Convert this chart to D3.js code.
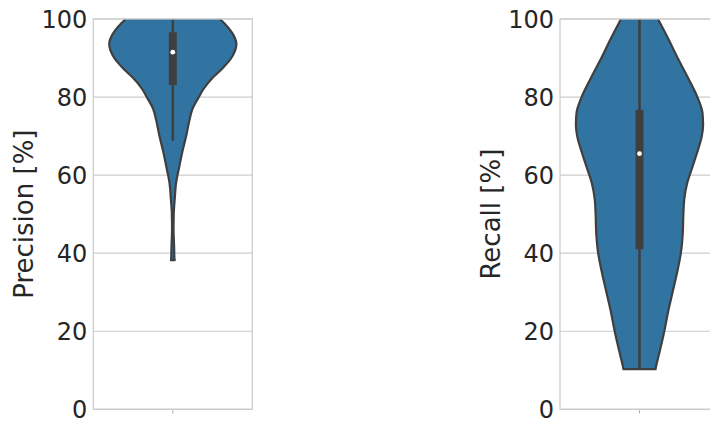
<!DOCTYPE html>
<html>
<head>
<meta charset="utf-8">
<script src="https://cdn.jsdelivr.net/npm/d3@7"></script>
<style>
  html, body { margin: 0; padding: 0; background: #ffffff; }
  svg { display: block; font-family: "DejaVu Sans", sans-serif; }
</style>
</head>
<body>
<svg id="chart" width="710" height="421"></svg>
<script>
// Violin profiles: value levels (%) and relative density (max = 1)
const precisionLevels = [38.2, 42, 46, 50, 54, 58, 62, 66, 70, 74, 77, 80, 82, 85, 87, 90, 93.5, 96, 98, 100];
const precisionDensity = [0.026, 0.02, 0.012, 0.015, 0.031, 0.052, 0.10, 0.15, 0.21, 0.26, 0.31, 0.41, 0.48, 0.63, 0.76, 0.92, 1.0, 0.95, 0.86, 0.74];
// Box summary: [lower whisker, Q1, median, Q3, upper whisker]
const precisionStats = [68.8, 83.1, 91.5, 96.6, 100];

const recallLevels = [10.3, 15, 20, 25, 30, 35, 40, 45, 50, 54, 58, 62, 66, 70, 73, 76, 80, 85, 90, 95, 100];
const recallDensity = [0.25, 0.32, 0.39, 0.45, 0.52, 0.59, 0.65, 0.68, 0.69, 0.705, 0.75, 0.83, 0.91, 0.98, 1.0, 0.99, 0.91, 0.76, 0.60, 0.45, 0.29];
const recallStats = [10.3, 41.0, 65.5, 76.7, 100];

const yTicks = [0, 20, 40, 60, 80, 100];

const panels = [
  { label: "Precision [%]", levels: precisionLevels, density: precisionDensity, stats: precisionStats, left: 93.3 },
  { label: "Recall [%]", levels: recallLevels, density: recallDensity, stats: recallStats, left: 560 }
];

const panelWidth = 159;
const plotTop = 19, plotBottom = 409.3;
const fillColor = "#3274a1";
const lineColor = "#3f3f3f";
const gridColor = "#cccccc";
const textColor = "#262626";

const svg = d3.select("#chart");

panels.forEach((p, i) => {
  const x = d3.scaleLinear().domain([-0.5, 0.5]).range([p.left, p.left + panelWidth]);
  const y = d3.scaleLinear().domain([0, 100]).range([plotBottom, plotTop]);
  const g = svg.append("g");

  const clipId = "clip" + i;
  svg.append("clipPath").attr("id", clipId)
    .append("rect").attr("x", p.left).attr("y", plotTop)
    .attr("width", panelWidth).attr("height", plotBottom - plotTop);

  // horizontal grid
  g.append("g").selectAll("line").data(yTicks).join("line")
    .attr("x1", p.left).attr("x2", p.left + panelWidth)
    .attr("y1", d => y(d)).attr("y2", d => y(d))
    .attr("stroke", gridColor).attr("stroke-width", 1.2);

  // violin body
  const pts = p.levels.map((v, k) => ({ v, w: p.density[k] * 0.4 }));
  const curve = d3.curveMonotoneY;
  const area = d3.area()
    .y(d => y(d.v))
    .x0(d => x(-d.w))
    .x1(d => x(d.w))
    .curve(curve);
  const vg = g.append("g").attr("clip-path", `url(#${clipId})`);
  vg.append("path").datum(pts).attr("d", area).attr("fill", fillColor);

  // outline: left side down, bottom edge, right side up
  const leftSide = pts.map(d => [x(-d.w), y(d.v)]);
  const rightSide = pts.map(d => [x(d.w), y(d.v)]);
  const side = d3.line().curve(curve);
  vg.append("path").attr("d", side(leftSide))
    .attr("fill", "none").attr("stroke", lineColor).attr("stroke-width", 2.2);
  vg.append("path").attr("d", side(rightSide))
    .attr("fill", "none").attr("stroke", lineColor).attr("stroke-width", 2.2);
  vg.append("line")
    .attr("x1", leftSide[0][0] - 1.1).attr("x2", rightSide[0][0] + 1.1)
    .attr("y1", leftSide[0][1]).attr("y2", rightSide[0][1])
    .attr("stroke", lineColor).attr("stroke-width", 2.2);

  // inner box
  const [wLo, q1, med, q3, wHi] = p.stats;
  vg.append("line").attr("x1", x(0)).attr("x2", x(0))
    .attr("y1", y(wLo)).attr("y2", y(wHi))
    .attr("stroke", lineColor).attr("stroke-width", 2.6);
  vg.append("line").attr("x1", x(0)).attr("x2", x(0))
    .attr("y1", y(q1)).attr("y2", y(q3))
    .attr("stroke", lineColor).attr("stroke-width", 8).attr("stroke-linecap", "butt");
  vg.append("circle").attr("cx", x(0)).attr("cy", y(med)).attr("r", 2.4).attr("fill", "#ffffff");

  // frame
  g.append("rect").attr("x", p.left).attr("y", plotTop)
    .attr("width", panelWidth).attr("height", plotBottom - plotTop)
    .attr("fill", "none").attr("stroke", gridColor).attr("stroke-width", 1.25);

  // y axis labels
  const yAxis = d3.axisLeft(y).tickValues(yTicks).tickSize(0).tickPadding(6).tickFormat(d3.format("d"));
  const ax = g.append("g").attr("transform", `translate(${p.left},0)`).call(yAxis);
  ax.select(".domain").remove();
  ax.selectAll("text").attr("font-size", 24).attr("fill", textColor)
    .attr("font-family", "DejaVu Sans, sans-serif").attr("dy", "0.35em");

  // x tick (single unnamed category)
  g.append("line").attr("x1", x(0)).attr("x2", x(0))
    .attr("y1", plotBottom + 1).attr("y2", plotBottom + 4)
    .attr("stroke", "#aaaaaa").attr("stroke-width", 1);

  // axis title
  g.append("text")
    .attr("transform", `translate(${p.left - 60},${(plotTop + plotBottom) / 2}) rotate(-90)`)
    .attr("text-anchor", "middle")
    .attr("font-size", 26).attr("fill", textColor)
    .text(p.label);
});
</script>
</body>
</html>
